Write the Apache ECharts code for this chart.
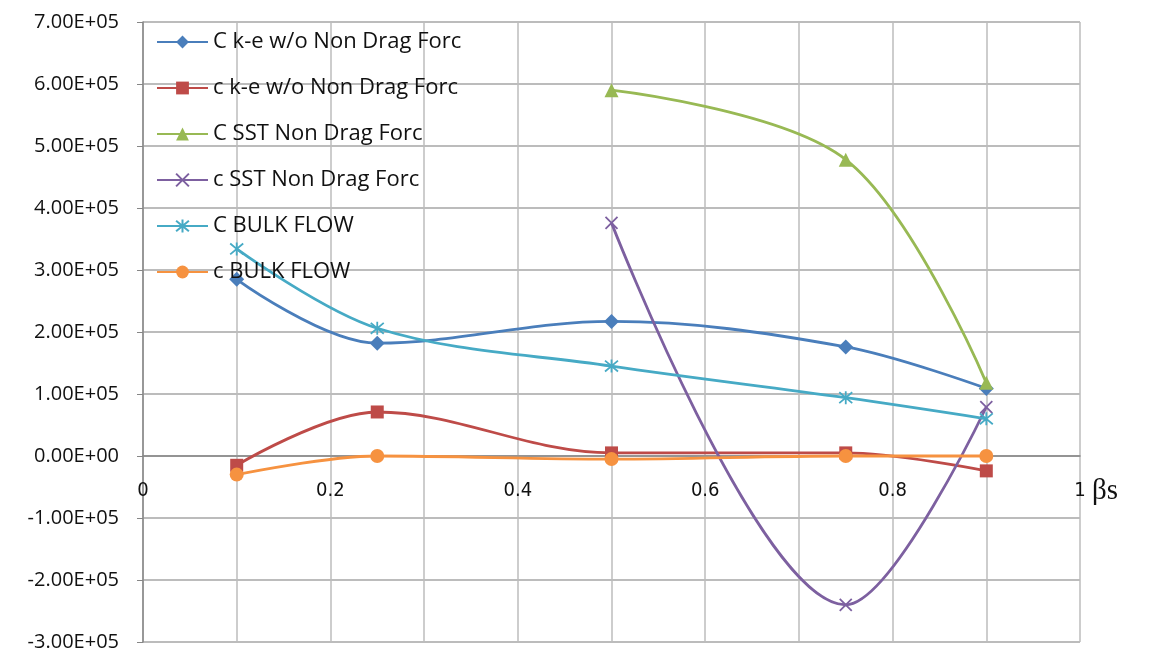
<!DOCTYPE html>
<html><head><meta charset="utf-8">
<script src="https://cdn.jsdelivr.net/npm/echarts@6/dist/echarts.min.js"></script>
<style>html,body{margin:0;padding:0;background:#fff}#c{width:1164px;height:655px}</style>
</head><body><div id="c"></div>
<script>
const betaS = [0.1, 0.25, 0.5, 0.75, 0.9];
const seriesNames = ['C k-e w/o Non Drag Forc','c k-e w/o Non Drag Forc','C SST Non Drag Forc','c SST Non Drag Forc','C BULK FLOW','c BULK FLOW'];
const C_ke   = [2.85e5, 1.82e5, 2.17e5, 1.76e5, 1.09e5];
const c_ke   = [-0.15e5, 0.71e5, 0.05e5, 0.05e5, -0.24e5];
const C_sst  = [null, null, 5.90e5, 4.78e5, 1.18e5];
const c_sst  = [null, null, 3.76e5, -2.40e5, 0.79e5];
const C_bulk = [3.34e5, 2.06e5, 1.45e5, 0.94e5, 0.60e5];
const c_bulk = [-0.30e5, 0.0, -0.05e5, 0.0, 0.0];
const yTicks = {min: -3e5, max: 7e5, step: 1e5};
const xTicks = {min: 0, max: 1, step: 0.1};

const colors = ['#4A7EBB','#BE4B48','#98B954','#7D60A0','#46AAC5','#F69240'];
const crossPath = 'path://M0,0L10,10M10,0L0,10';
const starPath = 'path://M0,0L10,10M10,0L0,10M5,-1L5,11';
const symbols = ['diamond','rect','triangle',crossPath,starPath,'circle'];
const sizes = [15,13,14,12,13,14];
const allData = [C_ke, c_ke, C_sst, c_sst, C_bulk, c_bulk];

function pairs(arr){ const out=[]; arr.forEach((v,i)=>{ if(v!==null) out.push([betaS[i], v]); }); return out; }

const series = allData.map((arr,i)=>{
  const stroked = (i===3||i===4);
  return {
    name: seriesNames[i], type:'line', smooth:0.35,
    data: pairs(arr),
    symbol: symbols[i], symbolSize: sizes[i],
    lineStyle:{color:colors[i], width:2.8},
    itemStyle: stroked ? {color:colors[i], borderColor:colors[i], borderWidth:1.8} : {color:colors[i]},
    emphasis:{disabled:true},
    animation:false
  };
});

const chart = echarts.init(document.getElementById('c'), null, {renderer:'canvas'});
chart.setOption({
  backgroundColor:'#fff',
  animation:false,
  grid:{left:143, right:84, top:22, bottom:13, containLabel:false, outerBoundsMode:'none'},
  legend:{
    orient:'vertical', left:151, top:26, itemWidth:51, itemHeight:16, itemGap:24,
    textStyle:{fontFamily:'Open Sans', fontSize:22, color:'#111'},
    data: seriesNames
  },
  xAxis:{
    type:'value', min:xTicks.min, max:xTicks.max, interval:xTicks.step,
    axisLine:{onZero:false, lineStyle:{color:'#868686', width:1.5}},
    offset:-186,
    axisTick:{show:false},
    axisLabel:{margin:25, fontFamily:'Liberation Sans Narrow, DejaVu Sans Condensed, sans-serif', fontSize:20, color:'#111',
      formatter:(v)=>{ const k=Math.round(v*10); return (k%2===0) ? String(Math.round(v*10)/10) : ''; }},
    splitLine:{show:true, lineStyle:{color:'#BDBDBD', width:1.5}}
  },
  yAxis:{
    type:'value', min:yTicks.min, max:yTicks.max, interval:yTicks.step,
    axisLine:{show:true, onZero:false, lineStyle:{color:'#868686', width:1.5}},
    axisTick:{show:true, inside:false, length:6, lineStyle:{color:'#868686'}},
    axisLabel:{margin:24, fontFamily:'Open Sans', fontSize:20, color:'#111',
      formatter:(v)=>{ const e = v===0 ? 0 : Math.floor(Math.log10(Math.abs(v))+1e-9); const m = v/Math.pow(10,e); return m.toFixed(2)+'E'+(e<0?'-':'+')+String(Math.abs(e)).padStart(2,'0'); }},
    splitLine:{show:true, lineStyle:{color:'#A6A6A6', width:1.5}}
  },
  graphic:[{type:'text', left:1092, top:477, style:{text:'βs', font:'29px "Liberation Serif", serif', fill:'#111'}}],
  series: series
});
</script></body></html>
